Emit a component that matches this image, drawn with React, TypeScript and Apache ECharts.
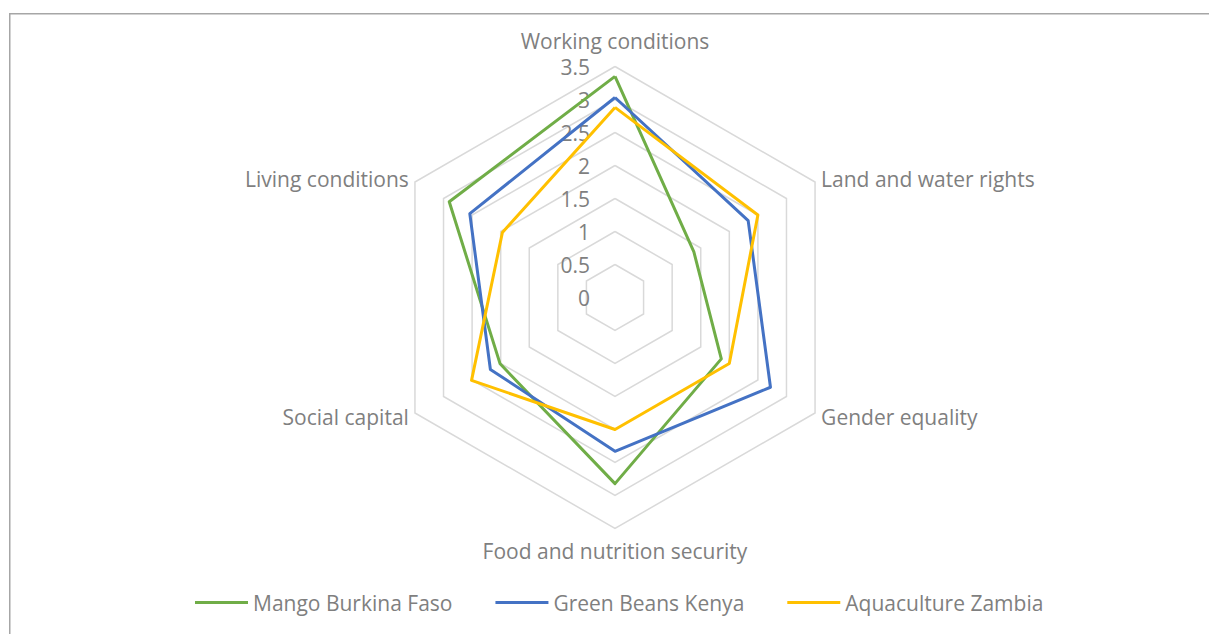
import React, { useEffect, useRef } from "react";
import * as echarts from "echarts";

// Axes listed clockwise from the top, as they appear in the chart
const categories = [
  "Working conditions",
  "Land and water rights",
  "Gender equality",
  "Food and nutrition security",
  "Social capital",
  "Living conditions",
];

const seriesNames = ["Mango Burkina Faso", "Green Beans Kenya", "Aquaculture Zambia"];
const mangoBurkinaFaso = [3.35, 1.38, 1.86, 2.82, 2.01, 2.9];
const greenBeansKenya = [3.03, 2.33, 2.72, 2.33, 2.18, 2.54];
const aquacultureZambia = [2.88, 2.5, 2.0, 2.0, 2.51, 1.97];
const seriesColors = ["#70AD47", "#4472C4", "#FFC000"];

const axisMin = 0;
const axisMax = 3.5;
const tickStep = 0.5;

const FONT = "'Open Sans', 'Noto Sans', sans-serif";
const GRAY = "#7F7F7F";
const FS = 21;

// ECharts places radar indicators counter-clockwise; map clockwise data into that order
const ecOrder = [0, 5, 4, 3, 2, 1];
const reorder = (arr: any[]) => ecOrder.map((i) => arr[i]);

export default function App() {
  const ref = useRef<HTMLDivElement>(null);
  useEffect(() => {
    if (!ref.current) return;
    const chart = echarts.init(ref.current, null, { renderer: "svg" });
    const cx = 615;
    const cy = 297.5;
    const R = 231;
    const option: any = {
      animation: false,
      backgroundColor: "#ffffff",
      textStyle: { fontFamily: FONT },
      graphic: [
        {
          type: "rect",
          shape: { x: 9.75, y: 13.75, width: 1240, height: 700 },
          style: { fill: "none", stroke: "#A6A6A6", lineWidth: 1.5 },
          silent: true,
          z: -10,
        },
      ],
      legend: {
        data: seriesNames,
        left: 195,
        top: 592,
        padding: 0,
        icon: "rect",
        itemWidth: 53,
        itemHeight: 3,
        itemGap: 43,
        textStyle: { color: GRAY, fontSize: FS, fontFamily: FONT },
      },
      grid: {
        left: cx,
        top: cy - R,
        width: 10,
        height: R,
        containLabel: false,
      },
      xAxis: { type: "value", show: false, min: 0, max: 1 },
      yAxis: {
        type: "value",
        min: axisMin,
        max: axisMax,
        interval: tickStep,
        axisLine: { show: false },
        axisTick: { show: false },
        splitLine: { show: false },
        axisLabel: {
          margin: 25,
          color: GRAY,
          fontSize: FS,
          fontFamily: FONT,
        },
      },
      radar: {
        center: [cx, cy],
        radius: R,
        startAngle: 90,
        shape: "polygon",
        splitNumber: Math.round((axisMax - axisMin) / tickStep),
        indicator: reorder(categories).map((name: string) => ({ name, min: axisMin, max: axisMax })),
        axisName: {
          color: GRAY,
          fontSize: FS,
          fontFamily: FONT,
          formatter: (v: string) =>
            v === categories[0] ? `{t|${v}}` : v === categories[3] ? `{b|${v}}` : v,
          rich: {
            t: {
              color: GRAY,
              fontSize: FS,
              fontFamily: FONT,
              padding: [0, 0, 8, 0],
            },
            b: {
              color: GRAY,
              fontSize: FS,
              fontFamily: FONT,
              padding: [5, 0, 0, 0],
            },
          },
        },
        nameGap: 7,
        axisLine: { show: false },
        axisTick: { show: false },
        axisLabel: { show: false },
        splitArea: { show: false },
        splitLine: { lineStyle: { color: "#D9D9D9", width: 1.5 } },
      },
      series: [
        {
          type: "radar",
          symbol: "none",
          data: [
            {
              name: seriesNames[0],
              value: reorder(mangoBurkinaFaso),
              lineStyle: { color: seriesColors[0], width: 3 },
              itemStyle: { color: seriesColors[0] },
            },
            {
              name: seriesNames[1],
              value: reorder(greenBeansKenya),
              lineStyle: { color: seriesColors[1], width: 3 },
              itemStyle: { color: seriesColors[1] },
            },
            {
              name: seriesNames[2],
              value: reorder(aquacultureZambia),
              lineStyle: { color: seriesColors[2], width: 3 },
              itemStyle: { color: seriesColors[2] },
            },
          ],
        },
      ],
    };
    chart.setOption(option);
    return () => chart.dispose();
  }, []);
  return (
    <div
      ref={ref}
      style={{ position: "fixed", left: 0, top: 0, width: 1209, height: 634, background: "#fff" }}
    />
  );
}
